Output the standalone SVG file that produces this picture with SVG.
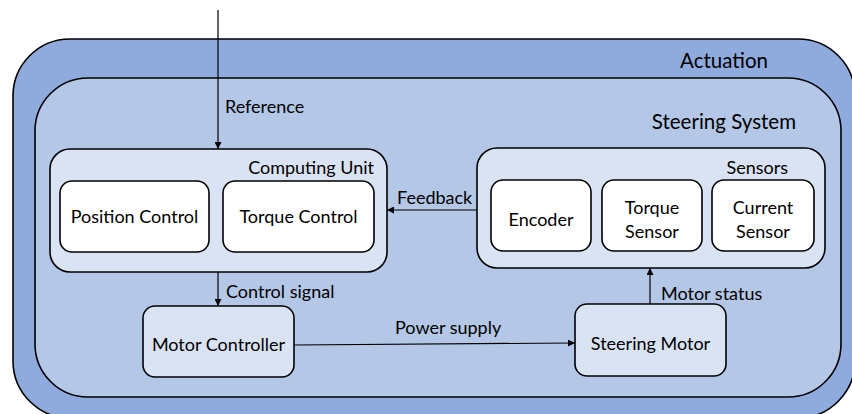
<svg xmlns="http://www.w3.org/2000/svg" width="852" height="414" viewBox="0 0 852 414">
<style>
text{font-family:Lato,"Liberation Sans",sans-serif;fill:#000}
.t{font-size:18px}
.big{font-size:20.5px}
.b{stroke:#000;stroke-width:1.6}
.c{stroke:#000;stroke-width:1.2;fill:none}
</style>
<defs>
<marker id="ah" viewBox="0 0 10 10" refX="10" refY="5" markerWidth="7" markerHeight="7" markerUnits="userSpaceOnUse" orient="auto"><path d="M0,0 L10,5 L0,10 z" fill="#000"/></marker>
</defs>
<rect width="852" height="414" fill="#fff"/>
<g id="actuation">
<rect class="b" x="13" y="39" width="842" height="379" rx="57" fill="#8FAADC"/>
<text class="big" x="768" y="68" text-anchor="end">Actuation</text>
</g>
<g id="steering-system">
<rect class="b" x="35" y="78" width="806" height="319" rx="53" fill="#B4C7E7"/>
<text class="big" x="796" y="129" text-anchor="end">Steering System</text>
</g>
<g id="computing-unit">
<rect class="b" x="50" y="149" width="337" height="123" rx="20" fill="#DAE3F3"/>
<text class="t" x="374" y="174" text-anchor="end">Computing Unit</text>
</g>
<g id="position-control">
<rect class="b" x="60" y="181" width="149" height="71" rx="12" fill="#fff"/>
<text class="t" x="134.5" y="223" text-anchor="middle">Position Control</text>
</g>
<g id="torque-control">
<rect class="b" x="223" y="181" width="151" height="71" rx="12" fill="#fff"/>
<text class="t" x="298.5" y="223" text-anchor="middle">Torque Control</text>
</g>
<g id="sensors">
<rect class="b" x="477" y="148" width="348" height="120" rx="20" fill="#DAE3F3"/>
<text class="t" x="788" y="174" text-anchor="end">Sensors</text>
</g>
<g id="encoder">
<rect class="b" x="491" y="180" width="100" height="71" rx="12" fill="#fff"/>
<text class="t" x="541" y="226" text-anchor="middle">Encoder</text>
</g>
<g id="torque-sensor">
<rect class="b" x="602" y="180" width="100" height="71" rx="12" fill="#fff"/>
<text class="t" x="652" y="214" text-anchor="middle">Torque</text>
<text class="t" x="652" y="238" text-anchor="middle">Sensor</text>
</g>
<g id="current-sensor">
<rect class="b" x="712" y="180" width="102" height="71" rx="12" fill="#fff"/>
<text class="t" x="763" y="214" text-anchor="middle">Current</text>
<text class="t" x="763" y="238" text-anchor="middle">Sensor</text>
</g>
<g id="motor-controller">
<rect class="b" x="143" y="306" width="151" height="71" rx="12" fill="#DAE3F3"/>
<text class="t" x="218.5" y="351" text-anchor="middle">Motor Controller</text>
</g>
<g id="steering-motor">
<rect class="b" x="575" y="304" width="151" height="72" rx="12" fill="#DAE3F3"/>
<text class="t" x="650.5" y="350" text-anchor="middle">Steering Motor</text>
</g>
<g id="connectors">
<line class="c" x1="218" y1="10" x2="218" y2="149" marker-end="url(#ah)"/>
<text class="t" x="225" y="113">Reference</text>
<line class="c" x1="477" y1="210" x2="387" y2="210" marker-end="url(#ah)"/>
<text class="t" x="397" y="204">Feedback</text>
<line class="c" x1="218" y1="272" x2="218" y2="306" marker-end="url(#ah)"/>
<text class="t" x="226" y="298">Control signal</text>
<line class="c" x1="294" y1="345" x2="575" y2="343" marker-end="url(#ah)"/>
<text class="t" x="395" y="334">Power supply</text>
<line class="c" x1="650" y1="304" x2="650" y2="268" marker-end="url(#ah)"/>
<text class="t" x="661" y="300">Motor status</text>
</g>
</svg>
